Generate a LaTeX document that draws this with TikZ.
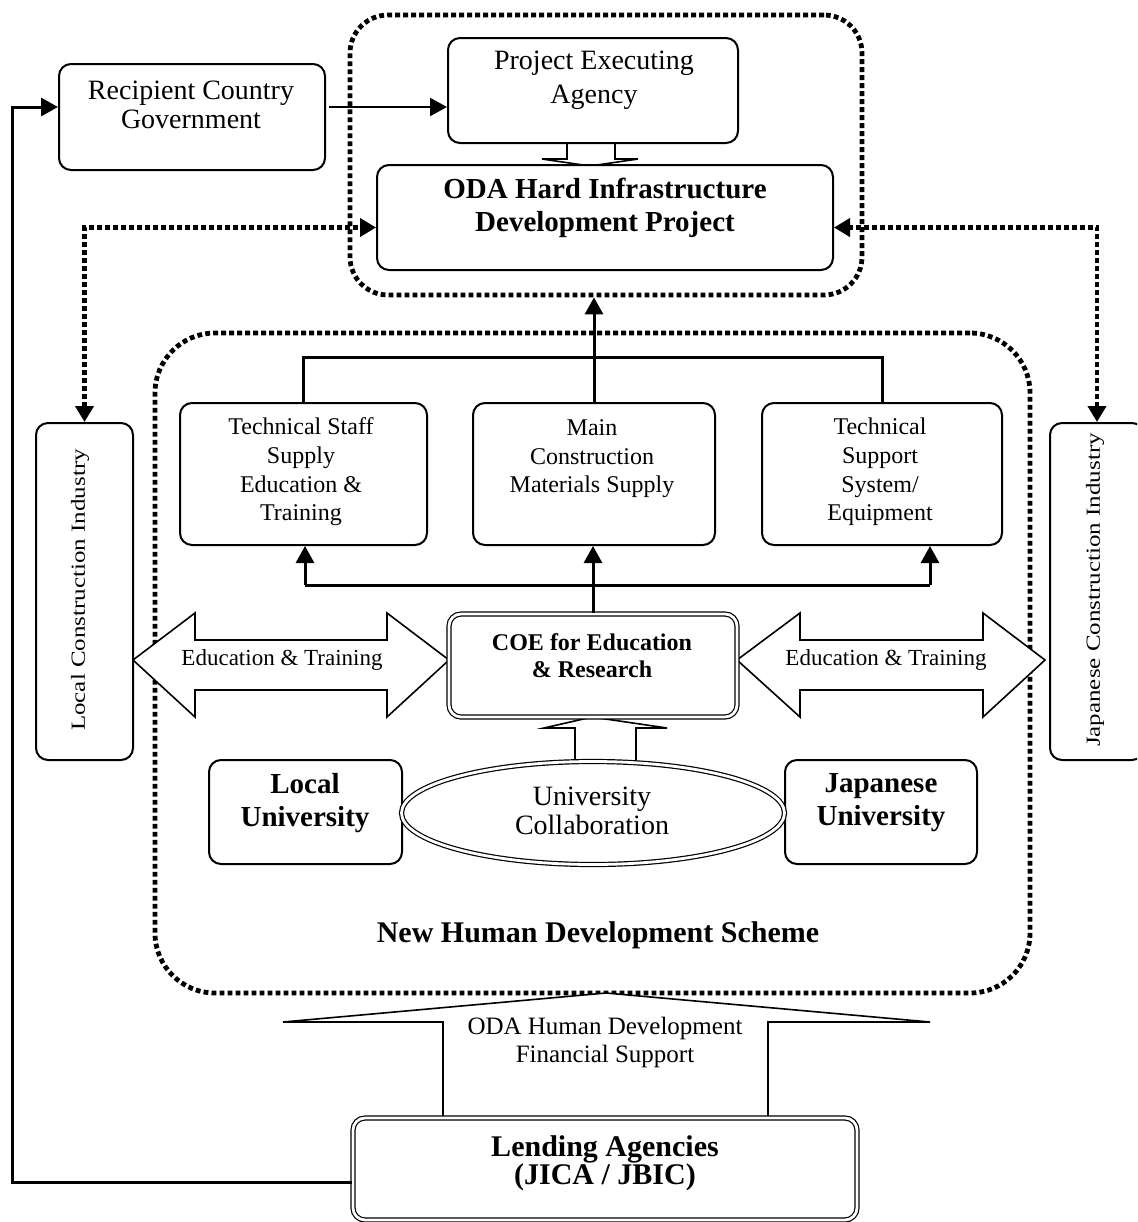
\documentclass[tikz,border=0pt]{standalone}
\usepackage{fontspec}
\setmainfont{Liberation Serif}
\usetikzlibrary{arrows.meta,fit,shapes.geometric}

\newcommand{\fs}[2]{\fontsize{#1}{#2}\selectfont}

\begin{document}
\begin{tikzpicture}[x=0.5pt,y=-0.5pt,
  box/.style={draw, line width=1pt, rounded corners=6pt, inner sep=0pt, fill=white},
  dbox/.style={draw, double, double distance=1.4pt, line width=0.6pt, rounded corners=6pt, inner sep=0pt, fill=white},
  grp/.style={draw, line width=2.4pt, dash pattern=on 2.4pt off 1.6pt, inner sep=0pt},
  txt/.style={align=center, inner sep=0pt},
  conn/.style={line width=1.5pt},
  thinconn/.style={line width=1.1pt},
  tip/.style={-{Triangle[length=8.5pt,width=9pt]}},
  dotconn/.style={line width=2.4pt, dash pattern=on 2.4pt off 1.6pt,
    {Triangle[length=8pt,width=9pt]}-{Triangle[length=8pt,width=9pt]}},
  blockarrow/.style={draw, line width=0.8pt, fill=white, line join=miter},
]
\clip (0,0) rectangle (1137,1222);
\fill[white] (0,0) rectangle (1137,1222);

% ---- dotted groupings ----
\node[grp, rounded corners=19pt, fit={(350,15) (862,295)}] (topgrp) {};
\node[grp, rounded corners=30pt, fit={(155,333) (1030,993)}] (hdgrp) {};

% ---- hollow block arrows ----
\draw[blockarrow] (567,143) -- (567,159) -- (542,159) -- (590,166) -- (638,159) -- (615,159) -- (615,143);
\draw[blockarrow] (575,762) -- (575,728) -- (544,728) -- (592,717) -- (667,728) -- (636,728) -- (636,762);
\draw[blockarrow] (443,1119) -- (443,1022) -- (283,1022) -- (606,993) -- (930,1022) -- (768,1022) -- (768,1119);
\draw[blockarrow] (133,660) -- (195,613) -- (195,640) -- (387,640) -- (387,613) -- (449,660)
  -- (387,717) -- (387,690) -- (195,690) -- (195,717) -- cycle;
\draw[blockarrow] (737,660) -- (800,613) -- (800,640) -- (983,640) -- (983,613) -- (1045,660)
  -- (983,717) -- (983,690) -- (800,690) -- (800,717) -- cycle;

% ---- boxes ----
\node[box, fit={(59,64) (325,170)}] (rcg) {};
\node[box, fit={(448,38) (738,143)}] (pea) {};
\node[box, fit={(377,165) (833,270)}] (oda) {};
\node[box, fit={(36,423) (133,760)}] (lci) {};
\node[box, fit={(1050,423) (1144,760)}] (jci) {};
\node[box, fit={(180,403) (427,545)}] (ts) {};
\node[box, fit={(473,403) (715,545)}] (mc) {};
\node[box, fit={(762,403) (1002,545)}] (tse) {};
\node[dbox, fit={(449,614) (737,717)}] (coe) {};
\node[box, fit={(209,760) (402,864)}] (lu) {};
\node[box, fit={(785,760) (977,864)}] (ju) {};
\node[draw, double, double distance=1.4pt, line width=0.6pt, ellipse, fill=white,
  minimum width=191.5pt, minimum height=51.5pt, inner sep=0pt] (uc) at (593,813) {};
\node[dbox, fit={(353,1118) (857,1220)}] (lend) {};

% ---- texts ----
\node[txt, font=\fs{14}{14.5}] (rcg-t) at (191,105) {Recipient Country\\Government};
\node[txt, font=\fs{14}{17}] (pea-t) at (594,80) {Project Executing\\Agency};
\node[txt, font=\bfseries\fs{14.5}{16.5}] (oda-t) at (605,208) {ODA Hard Infrastructure\\Development Project};
\node[txt, rotate=90] (lci-t) at (80,590) {\scalebox{1}[0.8]{\fs{12.5}{14}Local Construction Industry}};
\node[txt, rotate=90] (jci-t) at (1095,590) {\scalebox{1}[0.8]{\fs{12.5}{14}Japanese Construction Industry}};
\node[txt, font=\fs{12}{14.3}] (ts-t) at (301,472) {Technical Staff\\Supply\\Education \&\\Training};
\node[txt, font=\fs{12}{14.3}] (mc-t) at (592,459) {Main\\Construction\\Materials Supply};
\node[txt, font=\fs{12}{14.3}] (tse-t) at (880,472) {Technical\\Support\\System/\\Equipment};
\node[txt, font=\fs{11.5}{14}] (et1) at (282,660) {Education \& Training};
\node[txt, font=\fs{11.5}{14}] (et2) at (886,660) {Education \& Training};
\node[txt, font=\bfseries\fs{12}{13.5}] (coe-t) at (592,656) {COE for Education\\\& Research};
\node[txt, font=\bfseries\fs{14.5}{16.5}] (lu-t) at (305,803) {Local\\University};
\node[txt, font=\bfseries\fs{14.5}{16.5}] (ju-t) at (881,803) {Japanese\\University};
\node[txt, font=\fs{14}{14.5}] (uc-t) at (592,811) {University\\Collaboration};
\node[txt, font=\bfseries\fs{15}{17}] (nhd) at (598,935) {New Human Development Scheme};
\node[txt, font=\fs{12.5}{14}] (fin) at (605,1042) {ODA Human Development\\Financial Support};
\node[txt, font=\bfseries\fs{15}{14}] (lend-t) at (605,1163) {Lending Agencies\\(JICA / JBIC)};

% ---- connectors ----
\coordinate (g1) at (329,107);
\draw[thinconn, tip] (g1) -- (g1 -| pea.west);
\coordinate (fbc) at (12,107);
\draw[conn, tip] ([yshift=-6.5pt]lend.west) -| (fbc) -- ([yshift=5pt]rcg.west);

\draw[dotconn] (lci.north) |- ([yshift=-5pt]oda.west);
\draw[dotconn] (jci.north) |- ([yshift=-5pt]oda.east);

\coordinate (tbus) at (0,357);
\draw[conn] (ts.north) |- (tbus -| tse.north) -- (tse.north);
\draw[conn, tip] (mc.north) -- (mc.north |- topgrp.south);

\coordinate (busL) at (305,585);
\coordinate (busR) at (930,585);
\draw[conn] (busL) -- (busR);
\draw[conn, tip] (busL) -- (busL |- ts.south);
\draw[conn, tip] (busR) -- (busR |- tse.south);
\draw[conn, tip] (coe.north) -- (coe.north |- mc.south);
\end{tikzpicture}
\end{document}
